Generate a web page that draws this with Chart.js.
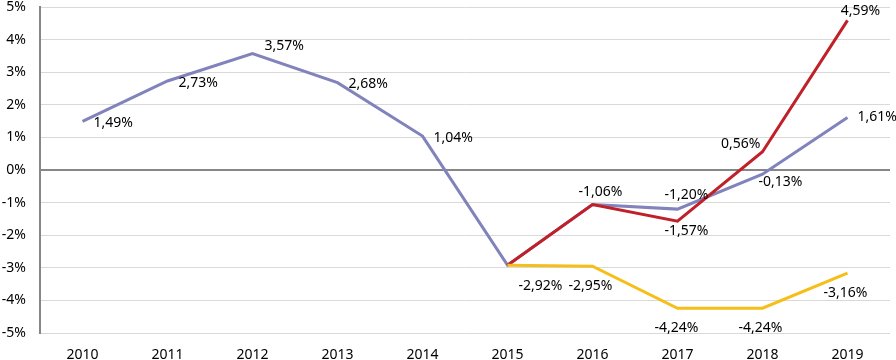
<!DOCTYPE html>
<html>
<head>
<meta charset="utf-8">
<script src="https://cdn.jsdelivr.net/npm/chart.js@4.4.0/dist/chart.umd.min.js"></script>
<style>
  html, body { margin: 0; padding: 0; background: #fff; }
  #wrap { width: 896px; height: 360px; }
</style>
</head>
<body>
<div id="wrap"><canvas id="growthChart"></canvas></div>
<script>
const years = ['2010', '2011', '2012', '2013', '2014', '2015', '2016', '2017', '2018', '2019'];
const seriesBlue = [1.49, 2.73, 3.57, 2.68, 1.04, -2.92, -1.06, -1.20, -0.13, 1.61];
const seriesRed = [null, null, null, null, null, -2.92, -1.06, -1.57, 0.56, 4.59];
const seriesYellow = [null, null, null, null, null, -2.92, -2.95, -4.24, -4.24, -3.16];
const yTicks = [-5, -4, -3, -2, -1, 0, 1, 2, 3, 4, 5];

// where each value label sits relative to its point: [dx, dy, align], null = no label
const labelsBlue = [[11, 2, 'left'], [11, 2, 'left'], [12, -8, 'left'], [11, 1, 'left'], [11, 2, 'left'],
                    [11, 21, 'left'], [8, -13, 'center'], [9, -14, 'center'], [18, 8, 'center'], [10, 0, 'left']];
const labelsRed = [null, null, null, null, null, null, null, [9, 10, 'center'], [-2, -8, 'right'], [13, -9, 'center']];
const labelsYellow = [null, null, null, null, null, null, [-2, 20, 'center'], [-1, 20, 'center'], [-2, 20, 'center'], [-2, 20, 'center']];

const fmt = v => v.toFixed(2).replace('.', ',') + '%';

const valueLabels = {
    id: 'valueLabels',
    afterDatasetsDraw(chart) {
        const ctx = chart.ctx;
        ctx.save();
        ctx.font = '14px "Noto Sans", sans-serif';
        ctx.fillStyle = '#000';
        ctx.textBaseline = 'middle';
        chart.data.datasets.forEach((ds, di) => {
            const meta = chart.getDatasetMeta(di);
            ds.valueLabels.forEach((pos, i) => {
                if (!pos || ds.data[i] == null) return;
                const pt = meta.data[i];
                ctx.textAlign = pos[2];
                ctx.fillText(fmt(ds.data[i]), pt.x + pos[0], pt.y + pos[1]);
            });
        });
        ctx.restore();
    }
};

const ctx = document.getElementById('growthChart').getContext('2d');
const chart = new Chart(ctx, {
    type: 'line',
    data: {
        labels: years,
        datasets: [{
            data: seriesBlue,
            borderColor: 'rgb(130, 130, 188)',
            valueLabels: labelsBlue,
            order: 3
        }, {
            data: seriesRed,
            borderColor: 'rgb(192, 32, 40)',
            valueLabels: labelsRed,
            order: 2
        }, {
            data: seriesYellow,
            borderColor: 'rgb(246, 190, 24)',
            valueLabels: labelsYellow,
            order: 1
        }]
    },
    options: {
        responsive: true,
        maintainAspectRatio: false,
        animation: false,
        layout: { padding: { top: 7, right: 6, left: 0, bottom: 0 } },
        elements: {
            line: { borderWidth: 3, tension: 0 },
            point: { radius: 0 }
        },
        plugins: {
            legend: { display: false },
            tooltip: { enabled: false }
        },
        scales: {
            x: {
                offset: true,
                grid: { display: false, offset: true },
                border: { display: false },
                ticks: {
                    color: '#000',
                    font: { family: '"Noto Sans", sans-serif', size: 14 },
                    maxRotation: 0,
                    padding: 6
                },
                afterFit(scale) {
                    scale.height = 27;
                    scale.paddingLeft = 0;
                    scale.paddingRight = 0;
                }
            },
            y: {
                min: -5,
                max: 5,
                afterBuildTicks(scale) { scale.ticks = yTicks.map(v => ({ value: v })); },
                grid: {
                    color: c => c.tick && c.tick.value === 0 ? '#868686' : '#d9d9d9',
                    lineWidth: c => c.tick && c.tick.value === 0 ? 2 : 1,
                    drawTicks: false
                },
                border: { color: '#868686', width: 2 },
                ticks: {
                    color: '#000',
                    font: { family: '"Noto Sans", sans-serif', size: 14 },
                    padding: 14,
                    callback: v => v + '%'
                },
                afterFit(scale) {
                    scale.width = 40;
                    scale.paddingTop = 0;
                    scale.paddingBottom = 0;
                }
            }
        }
    },
    plugins: [valueLabels]
});
</script>
</body>
</html>
